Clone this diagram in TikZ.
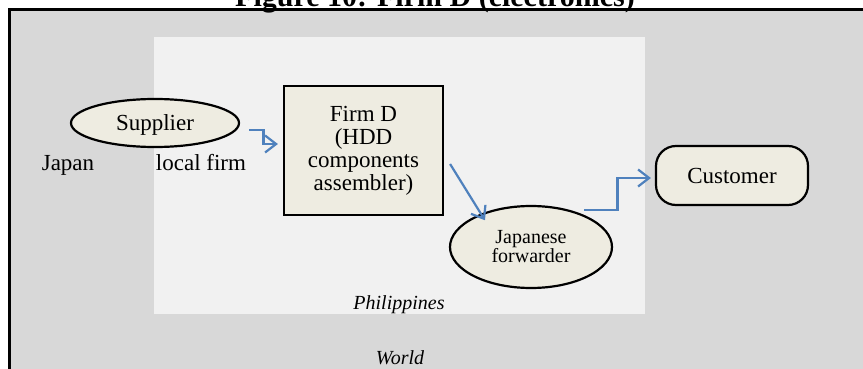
\documentclass[tikz,border=0pt]{standalone}
\usepackage{fontspec}
\setmainfont{Liberation Serif}
\usetikzlibrary{shapes.geometric,arrows.meta,calc}
\definecolor{worldgray}{HTML}{D8D8D8}
\definecolor{phgray}{HTML}{F1F1F1}
\definecolor{beige}{HTML}{EEECE1}
\definecolor{flowblue}{HTML}{4F81BD}
\begin{document}
\begin{tikzpicture}[x=1pt,y=-1pt,
  body/.style={font=\fontsize{23}{23}\selectfont},
  shapebox/.style={draw=black,line width=2.2pt,fill=beige,inner sep=0pt,align=center,body},
  oval/.style={shapebox,ellipse},
  arr/.style={draw=flowblue,line width=2.2pt,-{Straight Barb[length=11pt,width=17pt,line width=2.2pt]}},
  lbl/.style={anchor=base,inner sep=0pt,body},
  ilbl/.style={anchor=base,inner sep=0pt,font=\fontsize{20}{20}\selectfont\itshape}]
\useasboundingbox (0,0) rectangle (863,369);
\clip (0,0) rectangle (863,369);
% world frame
\draw[fill=worldgray,line width=3pt] (9,10) rectangle (880,400);
% Philippines region
\fill[phgray] (154,37) rectangle (645,314);
% title
\node[anchor=base,inner sep=0pt,font=\fontsize{30}{30}\selectfont\bfseries] (title) at (435,7) {Figure 10: Firm D (electronics)};
% nodes
\node[oval,minimum width=168pt,minimum height=48pt,text depth=1pt] (sup) at (155,123) {Supplier};
\node[shapebox,rectangle,minimum width=159pt,minimum height=129pt] (firm) at (363.5,150.5) {Firm D\\(HDD\\components\\assembler)};
\node[oval,minimum width=162pt,minimum height=82pt,font=\fontsize{20}{19}\selectfont] (fwd) at (531,247) {Japanese\\forwarder};
\node[shapebox,rectangle,rounded corners=20pt,minimum width=152pt,minimum height=59pt] (cust) at (732,175.5) {Customer};
% labels
\node[lbl] (japan) at (68,170) {Japan};
\node[lbl] (local) at (201,170) {local firm};
\node[ilbl] (ph) at (399,309) {Philippines};
\node[ilbl] (world) at (400,364) {World};
% connectors
\coordinate (a1s) at ($(sup.east)+(9,7)$);
\coordinate (a1e) at ($(firm.west)+(-5,-6.5)$);
\draw[arr] (a1s) -| ($(a1s)!0.5!(a1e)$) |- (a1e);
\coordinate (a2s) at ($(firm.east)+(6,13.5)$);
\coordinate (a2e) at ($(fwd.north west)+(12,3)$);
\draw[arr] (a2s) -- (a2e);
\coordinate (a3s) at ($(fwd.east)+(-29,-37)$);
\coordinate (a3e) at ($(cust.west)+(-4,2.5)$);
\draw[arr] (a3s) -| ($(a3s)!0.5!(a3e)$) |- (a3e);
\end{tikzpicture}
\end{document}
